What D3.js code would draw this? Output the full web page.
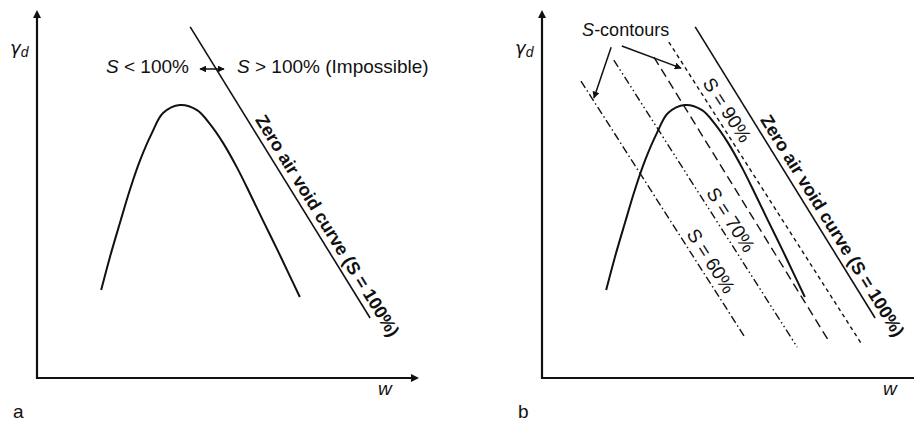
<!DOCTYPE html>
<html>
<head>
<meta charset="utf-8">
<script src="https://cdn.jsdelivr.net/npm/d3@7/dist/d3.min.js"></script>
<style>
  html, body { margin: 0; padding: 0; background: #fff; }
  svg { display: block; }
  text { font-family: "Liberation Sans", Arial, sans-serif; fill: #111; }
</style>
</head>
<body>
<svg id="chart" width="914" height="423"></svg>
<script>
// Compaction curve: dry unit weight vs. water content (relative units 0–100)
const curveW  = [16.8, 19.1, 21.7, 24.3, 27.0, 30.1, 33.0, 37.4, 41.9, 45.3, 48.7, 52.4, 55.8, 59.2, 62.8, 66.2, 68.8];
const curveGd = [23.9, 32.9, 42.1, 51.1, 59.2, 66.6, 72.0, 74.2, 72.8, 69.0, 63.9, 57.1, 50.0, 42.7, 35.1, 27.7, 22.0];

// Zero air void line (S = 100%)
const zavW  = [40.1, 87.2];
const zavGd = [95.4, 16.3];
const zavLabel = "Zero air void curve (S = 100%)";

// Saturation contours
const contourS      = [90, 80, 70, 60];
const contourLabels = ["S = 90%", "", "S = 70%", "S = 60%"];
const contourW0  = [33.2, 29.3, 18.8, 10.2];
const contourGd0 = [91.3, 87.2, 86.4, 80.7];
const contourW1  = [83.8, 75.4, 66.8, 53.1];
const contourGd1 = [ 9.0,  9.5,  8.4, 11.1];
const contourDash = ["4,3.5", "9,5", "8,3,1.5,3,1.5,3", "8,3,1.5,3"];
const contourLabelAt = [0.146, 0, 0.474, 0.61];

// Annotation arrows from the "S-contours" note
const noteArrowW0  = [18.1, 20.9];
const noteArrowGd0 = [89.9, 90.2];
const noteArrowW1  = [13.6, 36.4];
const noteArrowGd1 = [76.1, 84.2];

const panelLetters = ["a", "b"];
const panelOffsets = [0, 505];

const svg = d3.select("#chart");

const x = d3.scaleLinear().domain([0, 100]).range([37, 419]);
const y = d3.scaleLinear().domain([0, 100]).range([378, 10]);

const defs = svg.append("defs");
defs.append("marker")
  .attr("id", "head")
  .attr("viewBox", "0 0 10 10")
  .attr("refX", 9).attr("refY", 5)
  .attr("markerWidth", 7).attr("markerHeight", 7)
  .attr("markerUnits", "userSpaceOnUse")
  .attr("orient", "auto-start-reverse")
  .append("path").attr("d", "M0,0 L10,5 L0,10 Z").attr("fill", "#111");

const line = d3.line().x(d => x(d[0])).y(d => y(d[1]));
const smooth = d3.line().x(d => x(d[0])).y(d => y(d[1])).curve(d3.curveCatmullRom.alpha(0.5));

function drawAxes(g) {
  const x0 = x(0), y0 = y(0), yTop = y(100), xEnd = x(100);
  g.append("line").attr("x1", x0).attr("y1", y0 + 1).attr("x2", x0).attr("y2", yTop + 6)
    .attr("stroke", "#111").attr("stroke-width", 2.2);
  g.append("path").attr("d", `M${x0 - 4},${yTop + 8} L${x0},${yTop} L${x0 + 4},${yTop + 8} Z`).attr("fill", "#111");
  g.append("line").attr("x1", x0 - 1).attr("y1", y0).attr("x2", xEnd - 6).attr("y2", y0)
    .attr("stroke", "#111").attr("stroke-width", 2.2);
  g.append("path").attr("d", `M${xEnd - 8},${y0 - 4} L${xEnd},${y0} L${xEnd - 8},${y0 + 4} Z`).attr("fill", "#111");

  const gl = g.append("text").attr("x", 10).attr("y", 54).style("font-size", "18px");
  gl.append("tspan").style("font-family", "'DejaVu Sans', sans-serif").style("font-style", "italic").text("γ");
  gl.append("tspan").attr("dy", 3).style("font-size", "14px").style("font-style", "italic").text("d");

  g.append("text").attr("x", 378).attr("y", 395).style("font-size", "19px").style("font-style", "italic").text("w");
}

// Text laid along a straight line, starting at fraction f of its length
function lineLabel(g, w0, g0, w1, g1, f, offset, label, weight) {
  const px0 = x(w0), py0 = y(g0), px1 = x(w1), py1 = y(g1);
  const ang = Math.atan2(py1 - py0, px1 - px0) * 180 / Math.PI;
  const px = px0 + f * (px1 - px0), py = py0 + f * (py1 - py0);
  g.append("text")
    .attr("transform", `translate(${px},${py}) rotate(${ang})`)
    .attr("y", -offset)
    .style("font-size", weight === "bold" ? "18px" : "19px")
    .style("font-weight", weight)
    .text(label);
}

function drawCompaction(g) {
  g.append("path").datum(curveW.map((w, i) => [w, curveGd[i]]))
    .attr("d", smooth).attr("fill", "none").attr("stroke", "#111").attr("stroke-width", 2);
}

function drawZav(g) {
  g.append("path").datum([[zavW[0], zavGd[0]], [zavW[1], zavGd[1]]])
    .attr("d", line).attr("fill", "none").attr("stroke", "#111").attr("stroke-width", 1.6);
  lineLabel(g, zavW[0], zavGd[0], zavW[1], zavGd[1], 0.33, 6, zavLabel, "bold");
}

panelLetters.forEach((letter, i) => {
  const g = svg.append("g").attr("transform", `translate(${panelOffsets[i]},0)`);
  drawAxes(g);
  drawCompaction(g);
  drawZav(g);
  g.append("text").attr("x", 13).attr("y", 418).style("font-size", "19px").text(letter);

  if (i === 0) {
    const t1 = g.append("text").attr("x", 106).attr("y", 73).style("font-size", "19px");
    t1.append("tspan").style("font-style", "italic").text("S");
    t1.append("tspan").text(" < 100%");
    const t2 = g.append("text").attr("x", 237).attr("y", 73).style("font-size", "19px");
    t2.append("tspan").style("font-style", "italic").text("S");
    t2.append("tspan").text(" > 100% (Impossible)");
    g.append("line").attr("x1", 200).attr("y1", 69).attr("x2", 224).attr("y2", 69)
      .attr("stroke", "#111").attr("stroke-width", 1.5)
      .attr("marker-start", "url(#head)").attr("marker-end", "url(#head)");
  } else {
    contourS.forEach((s, k) => {
      g.append("path").datum([[contourW0[k], contourGd0[k]], [contourW1[k], contourGd1[k]]])
        .attr("d", line).attr("fill", "none").attr("stroke", "#111")
        .attr("stroke-width", 1.4).attr("stroke-dasharray", contourDash[k]);
      if (contourLabels[k]) {
        lineLabel(g, contourW0[k], contourGd0[k], contourW1[k], contourGd1[k],
          contourLabelAt[k], 6, contourLabels[k], "normal");
      }
    });
    const note = g.append("text").attr("x", x(10.5)).attr("y", y(92.9)).style("font-size", "18px");
    note.append("tspan").style("font-style", "italic").text("S");
    note.append("tspan").text("-contours");
    noteArrowW0.forEach((w, k) => {
      g.append("line")
        .attr("x1", x(w)).attr("y1", y(noteArrowGd0[k]))
        .attr("x2", x(noteArrowW1[k])).attr("y2", y(noteArrowGd1[k]))
        .attr("stroke", "#111").attr("stroke-width", 1.5)
        .attr("marker-end", "url(#head)");
    });
  }
});
</script>
</body>
</html>
